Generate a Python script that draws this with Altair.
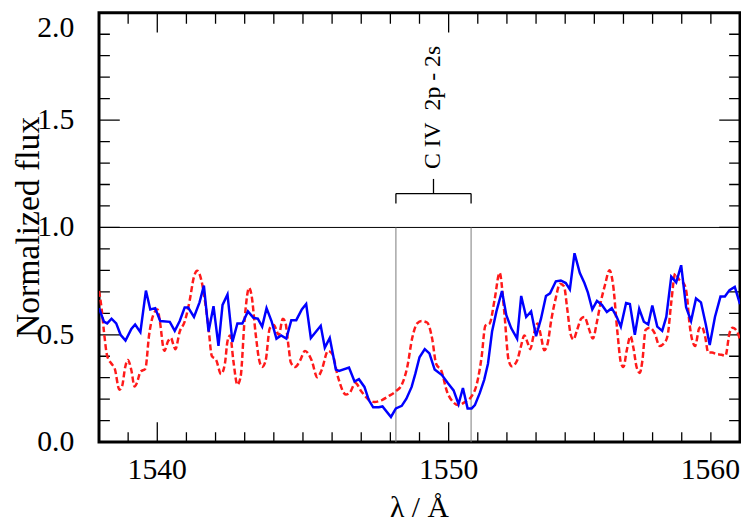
import altair as alt
import pandas as pd

# ---- observed spectrum (blue, solid) ----
lam_obs = [1538.00, 1538.17, 1538.28, 1538.43, 1538.59, 1538.74, 1538.91, 1539.11, 1539.24, 1539.42,
           1539.61, 1539.76, 1539.93, 1540.10, 1540.43, 1540.60, 1540.77, 1540.94, 1541.06, 1541.26,
           1541.45, 1541.60, 1541.76, 1541.93, 1542.10, 1542.24, 1542.41, 1542.58, 1542.75, 1542.92,
           1543.11, 1543.30, 1543.45, 1543.60, 1543.75, 1543.92, 1544.09, 1544.25, 1544.43, 1544.60,
           1544.77, 1544.96, 1545.11, 1545.27, 1545.61, 1545.75, 1545.92, 1546.13, 1546.24, 1546.58,
           1546.77, 1546.92, 1547.11, 1547.26, 1547.41, 1547.60, 1547.73, 1548.02, 1548.19, 1548.39,
           1548.55, 1548.73, 1548.86, 1549.00, 1549.18, 1549.34, 1549.52, 1549.77, 1549.97, 1550.17,
           1550.34, 1550.49, 1550.65, 1550.79, 1550.90, 1551.07, 1551.22, 1551.35, 1551.49, 1551.64,
           1551.83, 1551.98, 1552.15, 1552.35, 1552.49, 1552.66, 1552.83, 1553.00, 1553.17, 1553.34,
           1553.48, 1553.68, 1553.85, 1554.02, 1554.16, 1554.32, 1554.50, 1554.66, 1554.78, 1554.93,
           1555.09, 1555.26, 1555.43, 1555.60, 1555.77, 1555.91, 1556.09, 1556.22, 1556.39, 1556.54,
           1556.70, 1556.85, 1556.99, 1557.16, 1557.33, 1557.47, 1557.64, 1557.81, 1557.98, 1558.15,
           1558.32, 1558.49, 1558.66, 1558.83, 1558.96, 1559.14, 1559.33, 1559.48, 1559.64, 1559.82,
           1560.00]
flux_obs = [0.624, 0.561, 0.553, 0.575, 0.553, 0.500, 0.473, 0.527, 0.548, 0.512,
            0.706, 0.618, 0.624, 0.564, 0.560, 0.518, 0.564, 0.627, 0.627, 0.583,
            0.651, 0.729, 0.515, 0.633, 0.448, 0.639, 0.688, 0.467, 0.553, 0.553,
            0.609, 0.579, 0.575, 0.538, 0.624, 0.564, 0.482, 0.497, 0.482, 0.568,
            0.568, 0.618, 0.643, 0.485, 0.542, 0.440, 0.485, 0.338, 0.332, 0.347,
            0.282, 0.293, 0.257, 0.196, 0.162, 0.162, 0.166, 0.117, 0.157, 0.169,
            0.202, 0.257, 0.320, 0.395, 0.433, 0.413, 0.338, 0.312, 0.275, 0.241,
            0.177, 0.252, 0.157, 0.157, 0.172, 0.229, 0.290, 0.365, 0.515, 0.609,
            0.704, 0.591, 0.530, 0.482, 0.681, 0.583, 0.609, 0.493, 0.575, 0.681,
            0.693, 0.749, 0.753, 0.741, 0.711, 0.880, 0.789, 0.741, 0.696, 0.618,
            0.658, 0.639, 0.606, 0.624, 0.583, 0.538, 0.648, 0.643, 0.500, 0.621,
            0.561, 0.548, 0.636, 0.538, 0.518, 0.583, 0.771, 0.744, 0.824, 0.628,
            0.564, 0.669, 0.651, 0.546, 0.452, 0.583, 0.678, 0.678, 0.708, 0.723,
            0.643]

# ---- model spectrum (red, dashed) ----
lam_model = [1538.00, 1538.09, 1538.17, 1538.28, 1538.43, 1538.54, 1538.70, 1538.79, 1538.90, 1538.99,
             1539.11, 1539.22, 1539.30, 1539.42, 1539.59, 1539.72, 1539.86, 1540.01, 1540.09, 1540.24,
             1540.37, 1540.47, 1540.55, 1540.62, 1540.77, 1540.94, 1541.11, 1541.26, 1541.37, 1541.51,
             1541.64, 1541.76, 1541.87, 1542.02, 1542.19, 1542.32, 1542.41, 1542.50, 1542.61, 1542.75,
             1542.86, 1543.00, 1543.15, 1543.23, 1543.38, 1543.49, 1543.60, 1543.72, 1543.86, 1544.00,
             1544.17, 1544.31, 1544.39, 1544.51, 1544.58, 1544.73, 1544.90, 1545.07, 1545.30, 1545.49,
             1545.64, 1545.86, 1546.01, 1546.20, 1546.47, 1546.60, 1546.80, 1547.00, 1547.22, 1547.45,
             1547.71, 1547.94, 1548.19, 1548.39, 1548.58, 1548.75, 1548.92, 1549.07, 1549.26, 1549.43,
             1549.57, 1549.75, 1549.94, 1550.17, 1550.34, 1550.56, 1550.79, 1550.96, 1551.13, 1551.26,
             1551.41, 1551.58, 1551.75, 1551.90, 1552.06, 1552.17, 1552.35, 1552.47, 1552.60, 1552.71,
             1552.80, 1552.92, 1553.05, 1553.17, 1553.28, 1553.39, 1553.53, 1553.68, 1553.82, 1553.96,
             1554.07, 1554.19, 1554.28, 1554.41, 1554.55, 1554.66, 1554.81, 1554.95, 1555.09, 1555.23,
             1555.37, 1555.52, 1555.65, 1555.79, 1555.92, 1556.00, 1556.11, 1556.24, 1556.34, 1556.45,
             1556.56, 1556.65, 1556.76, 1556.90, 1557.07, 1557.24, 1557.41, 1557.52, 1557.64, 1557.78,
             1557.90, 1558.09, 1558.18, 1558.26, 1558.37, 1558.46, 1558.60, 1558.69, 1558.80, 1558.91,
             1559.04, 1559.19, 1559.37, 1559.50, 1559.64, 1559.75, 1559.90, 1560.00]
flux_model = [0.704, 0.621, 0.515, 0.402, 0.365, 0.342, 0.244, 0.259, 0.350, 0.383,
              0.335, 0.259, 0.275, 0.327, 0.342, 0.500, 0.591, 0.618, 0.561, 0.425,
              0.470, 0.485, 0.455, 0.433, 0.515, 0.561, 0.658, 0.771, 0.798, 0.756,
              0.654, 0.530, 0.402, 0.383, 0.317, 0.365, 0.470, 0.497, 0.380, 0.267,
              0.304, 0.575, 0.719, 0.688, 0.500, 0.387, 0.350, 0.380, 0.530, 0.546,
              0.500, 0.575, 0.561, 0.440, 0.372, 0.350, 0.380, 0.425, 0.380, 0.302,
              0.335, 0.425, 0.410, 0.304, 0.222, 0.229, 0.275, 0.237, 0.202, 0.187,
              0.196, 0.214, 0.237, 0.267, 0.350, 0.485, 0.553, 0.564, 0.557, 0.485,
              0.365, 0.332, 0.237, 0.184, 0.172, 0.187, 0.214, 0.267, 0.395, 0.542,
              0.553, 0.666, 0.789, 0.621, 0.380, 0.353, 0.380, 0.440, 0.497, 0.463,
              0.433, 0.500, 0.553, 0.493, 0.428, 0.455, 0.575, 0.673, 0.738, 0.726,
              0.621, 0.500, 0.478, 0.523, 0.575, 0.583, 0.530, 0.482, 0.561, 0.658,
              0.734, 0.801, 0.726, 0.515, 0.365, 0.350, 0.425, 0.493, 0.440, 0.350,
              0.322, 0.380, 0.523, 0.533, 0.508, 0.448, 0.463, 0.500, 0.651, 0.786,
              0.759, 0.734, 0.681, 0.561, 0.470, 0.448, 0.530, 0.538, 0.493, 0.417,
              0.417, 0.410, 0.407, 0.402, 0.508, 0.533, 0.515, 0.478]

# ---- line identification ----
doublet_lam = [1548.19, 1550.77]
doublet_mid = [1549.48]
line_label = ["C IV\u00a0 2p - 2s"]
continuum = [1.0]
leg_bottom = [1.111]
bracket_y = [1.158]
stem_top = [1.226]
label_y = [1.272]

# ---- axes: range, ticks, labels, titles ----
x_range = [1538, 1560]
y_range = [0.0, 2.0]
x_major = [1540, 1550, 1560]
x_minor = [1538, 1539, 1541, 1542, 1543, 1544, 1545, 1546, 1547, 1548, 1549,
           1551, 1552, 1553, 1554, 1555, 1556, 1557, 1558, 1559]
y_major = [0.0, 0.5, 1.0, 1.5, 2.0]
y_minor = [0.1, 0.2, 0.3, 0.4, 0.6, 0.7, 0.8, 0.9,
           1.1, 1.2, 1.3, 1.4, 1.6, 1.7, 1.8, 1.9]
x_title = ["λ / Å"]
y_title = ["Normalized flux"]

FONT = "Liberation Serif"
xs = alt.Scale(domain=x_range, nice=False, zero=False)
ys = alt.Scale(domain=y_range, nice=False, zero=False)


def X(field):
    return alt.X(field, scale=xs, axis=None)


def Y(field):
    return alt.Y(field, scale=ys, axis=None)


obs = pd.DataFrame({"lam": lam_obs, "flux": flux_obs})
model = pd.DataFrame({"lam": lam_model, "flux": flux_model})
dbl = pd.DataFrame({"lam": doublet_lam, "y0": [y_range[0]] * 2, "y1": continuum * 2,
                    "lo": leg_bottom * 2, "hi": bracket_y * 2})
bar = pd.DataFrame({"lam1": doublet_lam[:1], "lam2": doublet_lam[1:], "y": bracket_y})
stem = pd.DataFrame({"lam": doublet_mid, "lo": bracket_y, "hi": stem_top})
lab = pd.DataFrame({"lam": doublet_mid, "y": label_y, "text": line_label})
cont = pd.DataFrame({"lam": [x_range[0]], "lam2": [x_range[1]], "y": continuum})


def x_ticks(values, edge, length):
    # inward ticks on the bottom / top frame (the outer half is clipped away)
    df = pd.DataFrame({"tv": values})
    return alt.Chart(df).mark_tick(
        orient="vertical", size=2 * length, thickness=1.3, color="black",
        opacity=1, clip=True).encode(
        x=X("tv:Q"), y=alt.Y(datum=edge, scale=ys, axis=None))


def y_ticks(values, edge, length):
    # inward ticks on the left / right frame
    df = pd.DataFrame({"tv": values})
    return alt.Chart(df).mark_tick(
        orient="horizontal", size=2 * length, thickness=1.3, color="black",
        opacity=1, clip=True).encode(
        x=alt.X(datum=edge, scale=xs, axis=None), y=Y("tv:Q"))


ticks = [
    x_ticks(x_minor, y_range[0], 10), x_ticks(x_major, y_range[0], 20),
    x_ticks(x_minor, y_range[1], 11), x_ticks(x_major, y_range[1], 20),
    y_ticks(y_minor, x_range[0], 11), y_ticks(y_major, x_range[0], 21),
    y_ticks(y_minor, x_range[1], 11), y_ticks(y_major, x_range[1], 21),
]

# tick labels (text marks placed through the scales)
xl_df = pd.DataFrame({"lam": x_major, "flux": [y_range[0]] * len(x_major)})
x_labels_c = alt.Chart(xl_df).transform_filter(f"datum.lam < {x_range[1]}").mark_text(
    font=FONT, fontSize=30, color="black", align="center", baseline="top", dy=13).encode(
    x=X("lam:Q"), y=Y("flux:Q"), text=alt.Text("lam:Q", format="d"))
x_labels_r = alt.Chart(xl_df).transform_filter(f"datum.lam >= {x_range[1]}").mark_text(
    font=FONT, fontSize=30, color="black", align="right", baseline="top", dy=13).encode(
    x=X("lam:Q"), y=Y("flux:Q"), text=alt.Text("lam:Q", format="d"))

yl_df = pd.DataFrame({"lam": [x_range[0]] * len(y_major), "flux": y_major})
y_labels = alt.Chart(yl_df).transform_filter(f"datum.flux < {y_range[1]}").mark_text(
    font=FONT, fontSize=30, color="black", align="right", baseline="middle", dx=-25).encode(
    x=X("lam:Q"), y=Y("flux:Q"), text=alt.Text("flux:Q", format=".1f"))
y_label_top = alt.Chart(yl_df).transform_filter(f"datum.flux >= {y_range[1]}").mark_text(
    font=FONT, fontSize=30, color="black", align="right", baseline="top", dx=-25).encode(
    x=X("lam:Q"), y=Y("flux:Q"), text=alt.Text("flux:Q", format=".1f"))

xt_df = pd.DataFrame({"lam": [sum(x_range) / 2], "flux": [y_range[0]], "text": x_title})
x_title_mark = alt.Chart(xt_df).mark_text(
    font=FONT, fontSize=30, color="black", align="center", baseline="alphabetic", dy=76).encode(
    x=X("lam:Q"), y=Y("flux:Q"), text="text:N")

yt_df = pd.DataFrame({"lam": [x_range[0]], "flux": [sum(y_range) / 2], "text": y_title})
y_title_mark = alt.Chart(yt_df).mark_text(
    font=FONT, fontSize=34, color="black", align="center", baseline="alphabetic",
    angle=270, dy=-61).encode(
    x=X("lam:Q"), y=Y("flux:Q"), text="text:N")

obs_line = alt.Chart(obs).mark_line(color="#0000ff", strokeWidth=2.5, clip=True).encode(
    x=X("lam:Q"), y=Y("flux:Q"))

model_line = alt.Chart(model).mark_line(color="#ff1a1a", strokeWidth=2.5, strokeDash=[6, 3],
                                        interpolate="monotone", clip=True).encode(
    x=X("lam:Q"), y=Y("flux:Q"))

dbl_rules = alt.Chart(dbl).mark_rule(color="#7a7a7a", strokeWidth=1).encode(
    x=X("lam:Q"), y=Y("y0:Q"), y2="y1:Q")

bar_rule = alt.Chart(bar).mark_rule(color="black", strokeWidth=1.3).encode(
    x=X("lam1:Q"), x2="lam2:Q", y=Y("y:Q"))

label = alt.Chart(lab).mark_text(angle=270, align="left", baseline="middle",
                                 font=FONT, fontSize=24, color="black").encode(
    x=X("lam:Q"), y=Y("y:Q"), text="text:N")

legs = alt.Chart(dbl).mark_rule(color="black", strokeWidth=1.3).encode(
    x=X("lam:Q"), y=Y("lo:Q"), y2="hi:Q")

stem_rule = alt.Chart(stem).mark_rule(color="black", strokeWidth=1.3).encode(
    x=X("lam:Q"), y=Y("lo:Q"), y2="hi:Q")

cont_rule = alt.Chart(cont).mark_rule(color="black", strokeWidth=1).encode(
    x=X("lam:Q"), x2="lam2:Q", y=Y("y:Q"))

chart = alt.layer(
    cont_rule, dbl_rules, legs, stem_rule, bar_rule, label, *ticks,
    model_line, obs_line,
    x_labels_c, x_labels_r, y_labels, y_label_top, x_title_mark, y_title_mark
).properties(
    width=648, height=434,
    autosize=alt.AutoSizeParams(type="none"),
    padding={"left": 92, "top": 2, "right": 1, "bottom": 84},
    background="white",
).configure_view(
    stroke="black", strokeWidth=3
)

chart.save("out.html", embed_options={"renderer": "svg", "actions": False})
